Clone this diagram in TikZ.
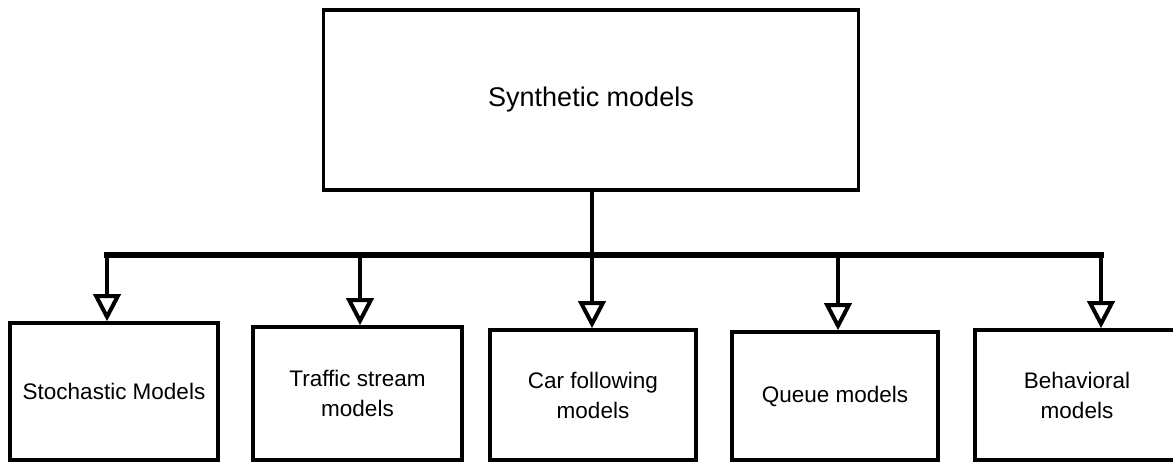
\documentclass[tikz,border=0pt]{standalone}
\usepackage{fontspec}
\setmainfont{Liberation Sans}
\usetikzlibrary{arrows.meta}
\begin{document}
\begin{tikzpicture}[x=1pt,y=1pt,
  topbox/.style={draw, line width=3.5pt, rectangle, inner sep=0pt, minimum width=535pt, minimum height=180pt,
    font=\fontsize{27}{32}\selectfont, align=center},
  leafbox/.style={draw, line width=3.5pt, rectangle, inner sep=0pt, minimum width=207pt, minimum height=131pt,
    font=\fontsize{22.5}{30}\selectfont, align=center},
  busline/.style={line width=6pt, line cap=rect},
  stemline/.style={line width=3.5pt},
  downarrow/.style={line width=4.5pt, -{Triangle[open, length=27pt, width=27pt, line width=4pt]}}
]
\useasboundingbox (0,0) rectangle (1173,463);

\node[topbox] (top) at (591,363) {Synthetic models};

\node[leafbox, minimum width=208pt, minimum height=137pt] (b1) at (114,71.5) {Stochastic Models};
\node[leafbox, minimum width=209pt, minimum height=133pt] (b2) at (357.5,69.5) {Traffic stream\\models};
\node[leafbox, minimum width=206pt, minimum height=130pt] (b3) at (593,68) {Car following\\models};
\node[leafbox, minimum width=206pt, minimum height=128pt] (b4) at (835,67) {Queue models};
\node[leafbox, minimum width=204pt, minimum height=130pt] (b5) at (1077,68) {Behavioral\\models};

\coordinate (j1) at (107,208);
\coordinate (j2) at (360,208);
\coordinate (j3) at (592,208);
\coordinate (j4) at (838,208);
\coordinate (j5) at (1101,208);

\draw[stemline] (top.south -| j3) -- (j3);
\draw[busline] (j1) -- (j5);

\draw[downarrow] (j1) -- (j1 |- b1.north);
\draw[downarrow] (j2) -- (j2 |- b2.north);
\draw[downarrow] (j3) -- (j3 |- b3.north);
\draw[downarrow] (j4) -- (j4 |- b4.north);
\draw[downarrow] (j5) -- (j5 |- b5.north);
\end{tikzpicture}
\end{document}
